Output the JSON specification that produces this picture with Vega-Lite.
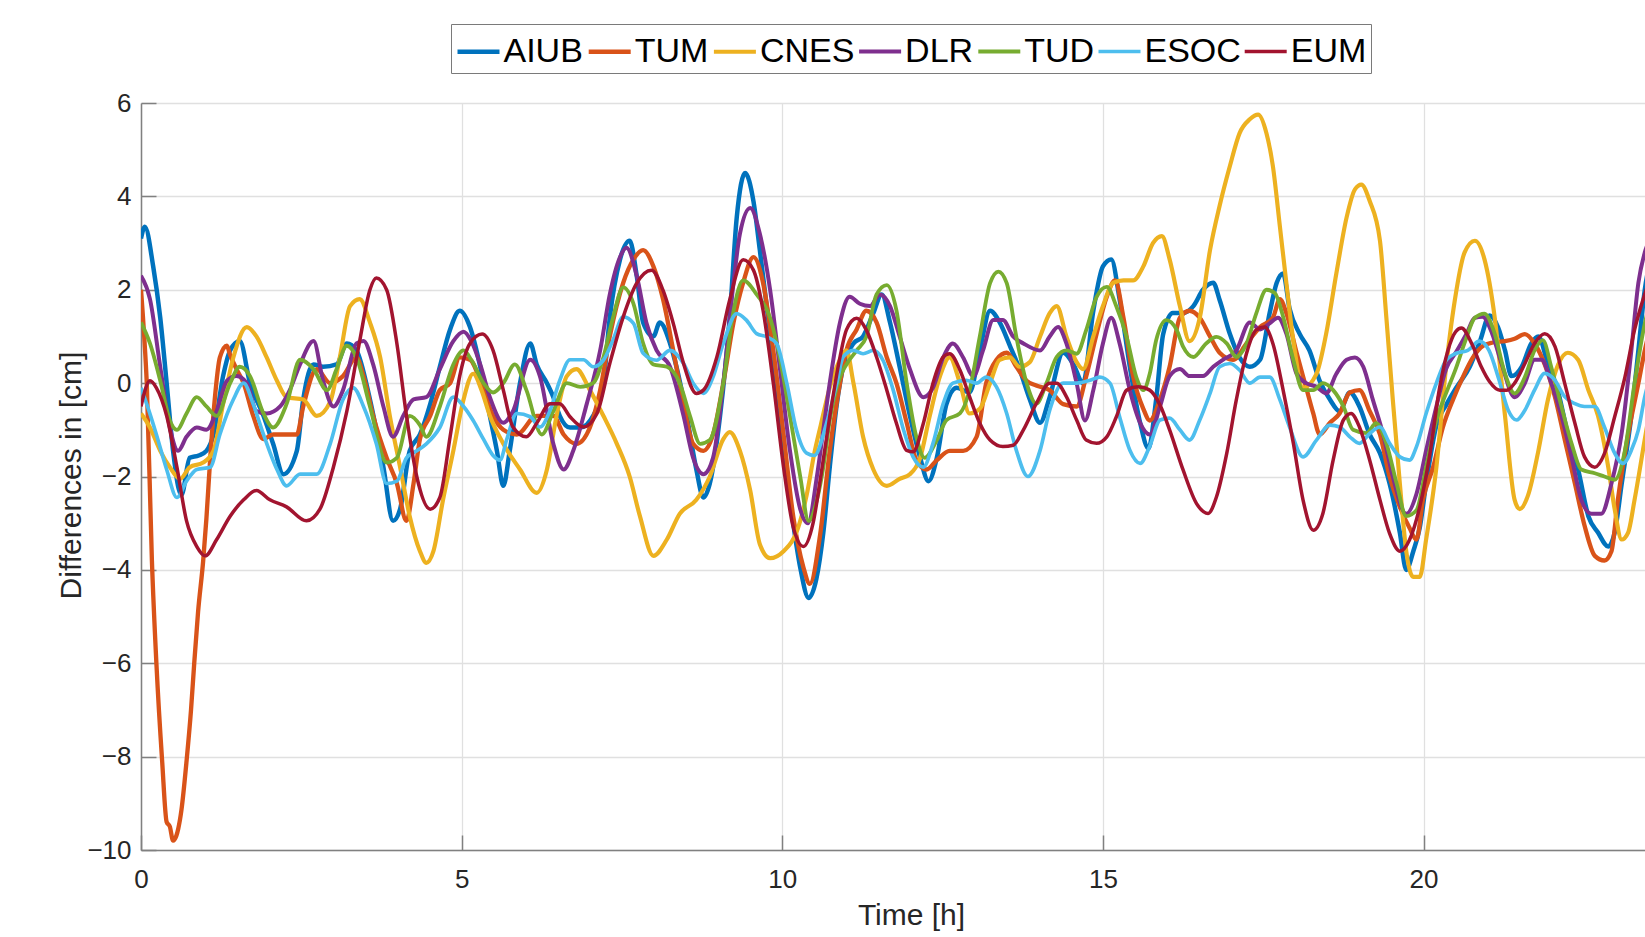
{
"$schema":"https://vega.github.io/schema/vega-lite/v6.json",
"width":1504,"height":747,
"autosize":{"type":"none"},
"padding":{"left":141,"top":103,"right":0,"bottom":87},
"background":"white",
"config":{"view":{"stroke":null},"font":"Liberation Sans",
 "axis":{"grid":true,"gridColor":"#e0e0e0","gridWidth":1.3,"domainColor":"#808080","domainWidth":1.5,"tickColor":"#808080","tickWidth":1.5,"tickSize":-15,"labelFontSize":26,"labelColor":"#262626","labelFont":"Liberation Sans","labelFlush":false,"labelOverlap":false,"titleFontSize":30,"titleFontWeight":"normal","titleColor":"#262626","titleFont":"Liberation Sans","titleBaseline":"alphabetic","titleAlign":"center"}},
"datasets":{"d":[
{"s":"AIUB","t":0,"v":3.1},{"s":"AIUB","t":0.06,"v":3.35},{"s":"AIUB","t":0.19,"v":2.5},{"s":"AIUB","t":0.3,"v":1.4},{"s":"AIUB","t":0.4,"v":0},{"s":"AIUB","t":0.5,"v":-1.45},{"s":"AIUB","t":0.63,"v":-2.4},{"s":"AIUB","t":0.76,"v":-1.6},{"s":"AIUB","t":0.9,"v":-1.55},{"s":"AIUB","t":1.02,"v":-1.45},{"s":"AIUB","t":1.13,"v":-1.1},{"s":"AIUB","t":1.28,"v":0.15},{"s":"AIUB","t":1.39,"v":0.7},{"s":"AIUB","t":1.54,"v":0.9},{"s":"AIUB","t":1.7,"v":0},{"s":"AIUB","t":1.91,"v":-0.7},{"s":"AIUB","t":2.06,"v":-1.3},{"s":"AIUB","t":2.22,"v":-1.95},{"s":"AIUB","t":2.43,"v":-1.45},{"s":"AIUB","t":2.53,"v":-0.35},{"s":"AIUB","t":2.69,"v":0.4},{"s":"AIUB","t":2.84,"v":0.35},{"s":"AIUB","t":3.05,"v":0.4},{"s":"AIUB","t":3.21,"v":0.85},{"s":"AIUB","t":3.36,"v":0.7},{"s":"AIUB","t":3.57,"v":-0.35},{"s":"AIUB","t":3.78,"v":-1.8},{"s":"AIUB","t":3.93,"v":-2.95},{"s":"AIUB","t":4.04,"v":-2.7},{"s":"AIUB","t":4.19,"v":-1.45},{"s":"AIUB","t":4.35,"v":-1.1},{"s":"AIUB","t":4.51,"v":-0.45},{"s":"AIUB","t":4.66,"v":0.35},{"s":"AIUB","t":4.82,"v":1.15},{"s":"AIUB","t":4.97,"v":1.55},{"s":"AIUB","t":5.13,"v":1.2},{"s":"AIUB","t":5.29,"v":0.35},{"s":"AIUB","t":5.44,"v":-0.7},{"s":"AIUB","t":5.55,"v":-1.45},{"s":"AIUB","t":5.65,"v":-2.2},{"s":"AIUB","t":5.75,"v":-1.45},{"s":"AIUB","t":5.91,"v":0},{"s":"AIUB","t":6.07,"v":0.85},{"s":"AIUB","t":6.17,"v":0.4},{"s":"AIUB","t":6.33,"v":0},{"s":"AIUB","t":6.43,"v":-0.3},{"s":"AIUB","t":6.53,"v":-0.7},{"s":"AIUB","t":6.69,"v":-0.95},{"s":"AIUB","t":6.85,"v":-0.95},{"s":"AIUB","t":7.05,"v":-0.7},{"s":"AIUB","t":7.21,"v":0},{"s":"AIUB","t":7.31,"v":1.4},{"s":"AIUB","t":7.47,"v":2.65},{"s":"AIUB","t":7.62,"v":3.05},{"s":"AIUB","t":7.73,"v":2.3},{"s":"AIUB","t":7.83,"v":1.3},{"s":"AIUB","t":7.99,"v":1.0},{"s":"AIUB","t":8.09,"v":1.3},{"s":"AIUB","t":8.25,"v":0.85},{"s":"AIUB","t":8.35,"v":0.35},{"s":"AIUB","t":8.51,"v":-0.7},{"s":"AIUB","t":8.66,"v":-1.85},{"s":"AIUB","t":8.77,"v":-2.45},{"s":"AIUB","t":8.87,"v":-2.15},{"s":"AIUB","t":9.03,"v":-0.7},{"s":"AIUB","t":9.18,"v":1.4},{"s":"AIUB","t":9.29,"v":3.55},{"s":"AIUB","t":9.42,"v":4.5},{"s":"AIUB","t":9.55,"v":3.9},{"s":"AIUB","t":9.65,"v":2.85},{"s":"AIUB","t":9.81,"v":1.05},{"s":"AIUB","t":9.96,"v":-0.7},{"s":"AIUB","t":10.12,"v":-2.5},{"s":"AIUB","t":10.28,"v":-3.95},{"s":"AIUB","t":10.41,"v":-4.6},{"s":"AIUB","t":10.53,"v":-4.2},{"s":"AIUB","t":10.64,"v":-3.2},{"s":"AIUB","t":10.74,"v":-1.8},{"s":"AIUB","t":10.85,"v":-0.45},{"s":"AIUB","t":10.95,"v":0.35},{"s":"AIUB","t":11.11,"v":0.85},{"s":"AIUB","t":11.26,"v":1.0},{"s":"AIUB","t":11.42,"v":1.5},{"s":"AIUB","t":11.55,"v":1.9},{"s":"AIUB","t":11.68,"v":1.3},{"s":"AIUB","t":11.83,"v":0.35},{"s":"AIUB","t":11.99,"v":-0.7},{"s":"AIUB","t":12.15,"v":-1.6},{"s":"AIUB","t":12.28,"v":-2.1},{"s":"AIUB","t":12.41,"v":-1.6},{"s":"AIUB","t":12.56,"v":-0.45},{"s":"AIUB","t":12.72,"v":-0.1},{"s":"AIUB","t":12.92,"v":-0.2},{"s":"AIUB","t":13.08,"v":0.7},{"s":"AIUB","t":13.24,"v":1.55},{"s":"AIUB","t":13.39,"v":1.3},{"s":"AIUB","t":13.55,"v":0.8},{"s":"AIUB","t":13.7,"v":0.3},{"s":"AIUB","t":13.86,"v":-0.35},{"s":"AIUB","t":14.02,"v":-0.85},{"s":"AIUB","t":14.17,"v":-0.3},{"s":"AIUB","t":14.38,"v":0.65},{"s":"AIUB","t":14.54,"v":0.4},{"s":"AIUB","t":14.69,"v":0},{"s":"AIUB","t":14.85,"v":1.55},{"s":"AIUB","t":15.0,"v":2.5},{"s":"AIUB","t":15.13,"v":2.65},{"s":"AIUB","t":15.26,"v":1.8},{"s":"AIUB","t":15.42,"v":0.35},{"s":"AIUB","t":15.58,"v":-0.85},{"s":"AIUB","t":15.71,"v":-1.4},{"s":"AIUB","t":15.83,"v":-0.35},{"s":"AIUB","t":15.94,"v":1.05},{"s":"AIUB","t":16.09,"v":1.5},{"s":"AIUB","t":16.25,"v":1.5},{"s":"AIUB","t":16.41,"v":1.65},{"s":"AIUB","t":16.56,"v":2.0},{"s":"AIUB","t":16.72,"v":2.15},{"s":"AIUB","t":16.82,"v":1.78},{"s":"AIUB","t":16.98,"v":1.05},{"s":"AIUB","t":17.13,"v":0.55},{"s":"AIUB","t":17.29,"v":0.35},{"s":"AIUB","t":17.45,"v":0.5},{"s":"AIUB","t":17.6,"v":1.5},{"s":"AIUB","t":17.71,"v":2.15},{"s":"AIUB","t":17.81,"v":2.35},{"s":"AIUB","t":17.91,"v":1.6},{"s":"AIUB","t":18.07,"v":1.05},{"s":"AIUB","t":18.22,"v":0.7},{"s":"AIUB","t":18.38,"v":0.05},{"s":"AIUB","t":18.54,"v":-0.35},{"s":"AIUB","t":18.69,"v":-0.6},{"s":"AIUB","t":18.85,"v":-0.2},{"s":"AIUB","t":19.0,"v":-0.5},{"s":"AIUB","t":19.16,"v":-1.1},{"s":"AIUB","t":19.32,"v":-1.5},{"s":"AIUB","t":19.47,"v":-2.15},{"s":"AIUB","t":19.63,"v":-3.2},{"s":"AIUB","t":19.73,"v":-4.0},{"s":"AIUB","t":19.84,"v":-3.6},{"s":"AIUB","t":19.94,"v":-3.1},{"s":"AIUB","t":20.04,"v":-2.15},{"s":"AIUB","t":20.2,"v":-0.9},{"s":"AIUB","t":20.36,"v":-0.45},{"s":"AIUB","t":20.51,"v":-0.1},{"s":"AIUB","t":20.72,"v":0.35},{"s":"AIUB","t":20.88,"v":0.9},{"s":"AIUB","t":21.03,"v":1.45},{"s":"AIUB","t":21.16,"v":1.2},{"s":"AIUB","t":21.27,"v":0.7},{"s":"AIUB","t":21.37,"v":0.15},{"s":"AIUB","t":21.53,"v":0.35},{"s":"AIUB","t":21.68,"v":0.85},{"s":"AIUB","t":21.79,"v":1.0},{"s":"AIUB","t":21.94,"v":0.4},{"s":"AIUB","t":22.1,"v":-0.2},{"s":"AIUB","t":22.25,"v":-1.1},{"s":"AIUB","t":22.41,"v":-1.85},{"s":"AIUB","t":22.57,"v":-2.85},{"s":"AIUB","t":22.72,"v":-3.2},{"s":"AIUB","t":22.88,"v":-3.5},{"s":"AIUB","t":22.98,"v":-3.2},{"s":"AIUB","t":23.09,"v":-2.15},{"s":"AIUB","t":23.24,"v":-0.7},{"s":"AIUB","t":23.35,"v":0.7},{"s":"AIUB","t":23.45,"v":2.0},{"s":"AIUB","t":23.6,"v":2.8},
{"s":"TUM","t":0,"v":2.0},{"s":"TUM","t":0.05,"v":1.0},{"s":"TUM","t":0.09,"v":0},{"s":"TUM","t":0.17,"v":-3.8},{"s":"TUM","t":0.24,"v":-6.0},{"s":"TUM","t":0.33,"v":-8.1},{"s":"TUM","t":0.4,"v":-9.4},{"s":"TUM","t":0.45,"v":-9.5},{"s":"TUM","t":0.5,"v":-9.8},{"s":"TUM","t":0.55,"v":-9.7},{"s":"TUM","t":0.58,"v":-9.55},{"s":"TUM","t":0.63,"v":-9.15},{"s":"TUM","t":0.71,"v":-8.1},{"s":"TUM","t":0.78,"v":-7.0},{"s":"TUM","t":0.83,"v":-6.0},{"s":"TUM","t":0.89,"v":-4.9},{"s":"TUM","t":0.97,"v":-3.8},{"s":"TUM","t":1.02,"v":-2.9},{"s":"TUM","t":1.08,"v":-1.6},{"s":"TUM","t":1.15,"v":-0.35},{"s":"TUM","t":1.23,"v":0.55},{"s":"TUM","t":1.34,"v":0.8},{"s":"TUM","t":1.39,"v":0.6},{"s":"TUM","t":1.49,"v":0.3},{"s":"TUM","t":1.6,"v":0},{"s":"TUM","t":1.75,"v":-0.7},{"s":"TUM","t":1.91,"v":-1.2},{"s":"TUM","t":2.06,"v":-1.1},{"s":"TUM","t":2.27,"v":-1.1},{"s":"TUM","t":2.43,"v":-1.1},{"s":"TUM","t":2.53,"v":-0.5},{"s":"TUM","t":2.74,"v":0.3},{"s":"TUM","t":2.95,"v":0},{"s":"TUM","t":3.15,"v":0.15},{"s":"TUM","t":3.36,"v":0.55},{"s":"TUM","t":3.47,"v":0.15},{"s":"TUM","t":3.62,"v":-0.7},{"s":"TUM","t":3.83,"v":-1.6},{"s":"TUM","t":3.99,"v":-2.15},{"s":"TUM","t":4.14,"v":-2.95},{"s":"TUM","t":4.25,"v":-2.15},{"s":"TUM","t":4.35,"v":-1.2},{"s":"TUM","t":4.51,"v":-0.7},{"s":"TUM","t":4.66,"v":-0.15},{"s":"TUM","t":4.82,"v":0},{"s":"TUM","t":4.97,"v":0.55},{"s":"TUM","t":5.13,"v":0.5},{"s":"TUM","t":5.34,"v":-0.15},{"s":"TUM","t":5.49,"v":-0.7},{"s":"TUM","t":5.65,"v":-1.0},{"s":"TUM","t":5.86,"v":-1.1},{"s":"TUM","t":6.17,"v":-0.7},{"s":"TUM","t":6.43,"v":-0.7},{"s":"TUM","t":6.59,"v":-1.1},{"s":"TUM","t":6.79,"v":-1.3},{"s":"TUM","t":7.0,"v":-0.95},{"s":"TUM","t":7.16,"v":-0.15},{"s":"TUM","t":7.31,"v":1.0},{"s":"TUM","t":7.52,"v":2.15},{"s":"TUM","t":7.68,"v":2.65},{"s":"TUM","t":7.83,"v":2.85},{"s":"TUM","t":7.99,"v":2.5},{"s":"TUM","t":8.14,"v":1.8},{"s":"TUM","t":8.3,"v":0.7},{"s":"TUM","t":8.46,"v":-0.45},{"s":"TUM","t":8.61,"v":-1.3},{"s":"TUM","t":8.77,"v":-1.45},{"s":"TUM","t":8.92,"v":-1.1},{"s":"TUM","t":9.08,"v":0},{"s":"TUM","t":9.24,"v":1.3},{"s":"TUM","t":9.39,"v":2.15},{"s":"TUM","t":9.55,"v":2.7},{"s":"TUM","t":9.7,"v":2.15},{"s":"TUM","t":9.86,"v":0.7},{"s":"TUM","t":10.02,"v":-1.1},{"s":"TUM","t":10.17,"v":-2.85},{"s":"TUM","t":10.33,"v":-3.95},{"s":"TUM","t":10.43,"v":-4.3},{"s":"TUM","t":10.59,"v":-3.25},{"s":"TUM","t":10.74,"v":-1.45},{"s":"TUM","t":10.9,"v":0},{"s":"TUM","t":11.0,"v":0.7},{"s":"TUM","t":11.16,"v":1.15},{"s":"TUM","t":11.31,"v":1.55},{"s":"TUM","t":11.47,"v":1.3},{"s":"TUM","t":11.63,"v":0.55},{"s":"TUM","t":11.78,"v":0},{"s":"TUM","t":11.94,"v":-0.85},{"s":"TUM","t":12.09,"v":-1.65},{"s":"TUM","t":12.25,"v":-1.85},{"s":"TUM","t":12.41,"v":-1.65},{"s":"TUM","t":12.61,"v":-1.45},{"s":"TUM","t":12.82,"v":-1.45},{"s":"TUM","t":13.03,"v":-1.15},{"s":"TUM","t":13.18,"v":0},{"s":"TUM","t":13.34,"v":0.5},{"s":"TUM","t":13.5,"v":0.65},{"s":"TUM","t":13.65,"v":0.35},{"s":"TUM","t":13.81,"v":0.05},{"s":"TUM","t":13.96,"v":-0.05},{"s":"TUM","t":14.17,"v":-0.15},{"s":"TUM","t":14.38,"v":-0.45},{"s":"TUM","t":14.59,"v":-0.5},{"s":"TUM","t":14.74,"v":0.15},{"s":"TUM","t":14.9,"v":1.05},{"s":"TUM","t":15.06,"v":1.85},{"s":"TUM","t":15.19,"v":2.2},{"s":"TUM","t":15.32,"v":1.4},{"s":"TUM","t":15.47,"v":0.15},{"s":"TUM","t":15.63,"v":-0.55},{"s":"TUM","t":15.73,"v":-0.8},{"s":"TUM","t":15.89,"v":-0.35},{"s":"TUM","t":16.04,"v":0.35},{"s":"TUM","t":16.2,"v":1.4},{"s":"TUM","t":16.35,"v":1.55},{"s":"TUM","t":16.51,"v":1.4},{"s":"TUM","t":16.67,"v":1.0},{"s":"TUM","t":16.82,"v":0.65},{"s":"TUM","t":17.03,"v":0.5},{"s":"TUM","t":17.24,"v":0.85},{"s":"TUM","t":17.45,"v":1.2},{"s":"TUM","t":17.65,"v":1.4},{"s":"TUM","t":17.76,"v":1.8},{"s":"TUM","t":17.86,"v":1.5},{"s":"TUM","t":18.02,"v":0.65},{"s":"TUM","t":18.17,"v":-0.1},{"s":"TUM","t":18.28,"v":-0.65},{"s":"TUM","t":18.38,"v":-1.1},{"s":"TUM","t":18.54,"v":-0.85},{"s":"TUM","t":18.69,"v":-0.65},{"s":"TUM","t":18.85,"v":-0.2},{"s":"TUM","t":19.0,"v":-0.15},{"s":"TUM","t":19.16,"v":-0.6},{"s":"TUM","t":19.32,"v":-1.1},{"s":"TUM","t":19.47,"v":-2.0},{"s":"TUM","t":19.63,"v":-2.65},{"s":"TUM","t":19.78,"v":-3.1},{"s":"TUM","t":19.89,"v":-3.35},{"s":"TUM","t":19.99,"v":-2.5},{"s":"TUM","t":20.15,"v":-1.8},{"s":"TUM","t":20.3,"v":-0.95},{"s":"TUM","t":20.46,"v":-0.35},{"s":"TUM","t":20.62,"v":0.15},{"s":"TUM","t":20.77,"v":0.55},{"s":"TUM","t":20.93,"v":0.8},{"s":"TUM","t":21.08,"v":0.87},{"s":"TUM","t":21.27,"v":0.9},{"s":"TUM","t":21.42,"v":0.95},{"s":"TUM","t":21.58,"v":1.05},{"s":"TUM","t":21.73,"v":0.85},{"s":"TUM","t":21.89,"v":0.4},{"s":"TUM","t":22.05,"v":-0.3},{"s":"TUM","t":22.2,"v":-1.2},{"s":"TUM","t":22.36,"v":-2.15},{"s":"TUM","t":22.51,"v":-3.05},{"s":"TUM","t":22.67,"v":-3.7},{"s":"TUM","t":22.82,"v":-3.8},{"s":"TUM","t":22.93,"v":-3.6},{"s":"TUM","t":23.03,"v":-2.5},{"s":"TUM","t":23.19,"v":-1.1},{"s":"TUM","t":23.35,"v":0},{"s":"TUM","t":23.45,"v":0.7},{"s":"TUM","t":23.6,"v":1.5},
{"s":"CNES","t":0,"v":-0.65},{"s":"CNES","t":0.14,"v":-0.95},{"s":"CNES","t":0.3,"v":-1.45},{"s":"CNES","t":0.45,"v":-1.8},{"s":"CNES","t":0.61,"v":-2.05},{"s":"CNES","t":0.76,"v":-1.8},{"s":"CNES","t":0.97,"v":-1.7},{"s":"CNES","t":1.13,"v":-1.45},{"s":"CNES","t":1.28,"v":-0.45},{"s":"CNES","t":1.44,"v":0.55},{"s":"CNES","t":1.65,"v":1.2},{"s":"CNES","t":1.8,"v":1.0},{"s":"CNES","t":1.96,"v":0.55},{"s":"CNES","t":2.12,"v":0.05},{"s":"CNES","t":2.27,"v":-0.3},{"s":"CNES","t":2.53,"v":-0.35},{"s":"CNES","t":2.74,"v":-0.7},{"s":"CNES","t":2.95,"v":-0.4},{"s":"CNES","t":3.1,"v":0.55},{"s":"CNES","t":3.26,"v":1.65},{"s":"CNES","t":3.41,"v":1.8},{"s":"CNES","t":3.57,"v":1.3},{"s":"CNES","t":3.73,"v":0.55},{"s":"CNES","t":3.88,"v":-0.7},{"s":"CNES","t":4.04,"v":-1.8},{"s":"CNES","t":4.19,"v":-2.85},{"s":"CNES","t":4.35,"v":-3.6},{"s":"CNES","t":4.45,"v":-3.85},{"s":"CNES","t":4.56,"v":-3.6},{"s":"CNES","t":4.71,"v":-2.5},{"s":"CNES","t":4.87,"v":-1.45},{"s":"CNES","t":5.03,"v":-0.35},{"s":"CNES","t":5.18,"v":0.2},{"s":"CNES","t":5.31,"v":-0.15},{"s":"CNES","t":5.44,"v":-0.7},{"s":"CNES","t":5.65,"v":-1.3},{"s":"CNES","t":5.91,"v":-1.85},{"s":"CNES","t":6.17,"v":-2.35},{"s":"CNES","t":6.33,"v":-1.85},{"s":"CNES","t":6.48,"v":-0.7},{"s":"CNES","t":6.64,"v":0.15},{"s":"CNES","t":6.79,"v":0.3},{"s":"CNES","t":7.0,"v":-0.15},{"s":"CNES","t":7.21,"v":-0.7},{"s":"CNES","t":7.42,"v":-1.3},{"s":"CNES","t":7.62,"v":-2.0},{"s":"CNES","t":7.78,"v":-2.85},{"s":"CNES","t":7.99,"v":-3.7},{"s":"CNES","t":8.2,"v":-3.35},{"s":"CNES","t":8.4,"v":-2.8},{"s":"CNES","t":8.66,"v":-2.5},{"s":"CNES","t":8.87,"v":-2.0},{"s":"CNES","t":9.08,"v":-1.2},{"s":"CNES","t":9.18,"v":-1.05},{"s":"CNES","t":9.34,"v":-1.45},{"s":"CNES","t":9.5,"v":-2.3},{"s":"CNES","t":9.65,"v":-3.45},{"s":"CNES","t":9.81,"v":-3.75},{"s":"CNES","t":10.02,"v":-3.6},{"s":"CNES","t":10.22,"v":-3.2},{"s":"CNES","t":10.38,"v":-2.4},{"s":"CNES","t":10.5,"v":-1.5},{"s":"CNES","t":10.6,"v":-0.9},{"s":"CNES","t":10.74,"v":-0.1},{"s":"CNES","t":10.9,"v":0.5},{"s":"CNES","t":11.0,"v":0.7},{"s":"CNES","t":11.11,"v":0},{"s":"CNES","t":11.26,"v":-1.15},{"s":"CNES","t":11.42,"v":-1.85},{"s":"CNES","t":11.63,"v":-2.2},{"s":"CNES","t":11.83,"v":-2.05},{"s":"CNES","t":11.99,"v":-1.95},{"s":"CNES","t":12.15,"v":-1.6},{"s":"CNES","t":12.3,"v":-0.7},{"s":"CNES","t":12.46,"v":0.15},{"s":"CNES","t":12.61,"v":0.55},{"s":"CNES","t":12.77,"v":0},{"s":"CNES","t":12.92,"v":-0.65},{"s":"CNES","t":13.08,"v":-0.55},{"s":"CNES","t":13.24,"v":0},{"s":"CNES","t":13.39,"v":0.5},{"s":"CNES","t":13.55,"v":0.55},{"s":"CNES","t":13.7,"v":0.35},{"s":"CNES","t":13.86,"v":0.45},{"s":"CNES","t":14.02,"v":1.0},{"s":"CNES","t":14.17,"v":1.5},{"s":"CNES","t":14.28,"v":1.65},{"s":"CNES","t":14.43,"v":1.0},{"s":"CNES","t":14.59,"v":0.45},{"s":"CNES","t":14.69,"v":0.3},{"s":"CNES","t":14.85,"v":1.0},{"s":"CNES","t":15.0,"v":1.65},{"s":"CNES","t":15.16,"v":2.15},{"s":"CNES","t":15.32,"v":2.2},{"s":"CNES","t":15.47,"v":2.2},{"s":"CNES","t":15.63,"v":2.5},{"s":"CNES","t":15.78,"v":3.0},{"s":"CNES","t":15.92,"v":3.15},{"s":"CNES","t":16.04,"v":2.65},{"s":"CNES","t":16.2,"v":1.65},{"s":"CNES","t":16.35,"v":0.9},{"s":"CNES","t":16.51,"v":1.4},{"s":"CNES","t":16.67,"v":2.85},{"s":"CNES","t":16.82,"v":3.8},{"s":"CNES","t":16.98,"v":4.65},{"s":"CNES","t":17.13,"v":5.35},{"s":"CNES","t":17.29,"v":5.65},{"s":"CNES","t":17.42,"v":5.75},{"s":"CNES","t":17.55,"v":5.35},{"s":"CNES","t":17.65,"v":4.65},{"s":"CNES","t":17.76,"v":3.35},{"s":"CNES","t":17.86,"v":2.15},{"s":"CNES","t":17.97,"v":0.9},{"s":"CNES","t":18.12,"v":-0.1},{"s":"CNES","t":18.33,"v":0.2},{"s":"CNES","t":18.48,"v":1.05},{"s":"CNES","t":18.64,"v":2.35},{"s":"CNES","t":18.8,"v":3.55},{"s":"CNES","t":18.93,"v":4.15},{"s":"CNES","t":19.03,"v":4.25},{"s":"CNES","t":19.16,"v":3.9},{"s":"CNES","t":19.32,"v":3.05},{"s":"CNES","t":19.42,"v":1.4},{"s":"CNES","t":19.52,"v":-0.35},{"s":"CNES","t":19.63,"v":-2.15},{"s":"CNES","t":19.73,"v":-3.6},{"s":"CNES","t":19.84,"v":-4.15},{"s":"CNES","t":19.94,"v":-4.15},{"s":"CNES","t":20.04,"v":-3.35},{"s":"CNES","t":20.2,"v":-1.8},{"s":"CNES","t":20.34,"v":0.2},{"s":"CNES","t":20.49,"v":1.8},{"s":"CNES","t":20.64,"v":2.8},{"s":"CNES","t":20.8,"v":3.05},{"s":"CNES","t":20.95,"v":2.65},{"s":"CNES","t":21.11,"v":1.4},{"s":"CNES","t":21.27,"v":-0.7},{"s":"CNES","t":21.42,"v":-2.5},{"s":"CNES","t":21.5,"v":-2.7},{"s":"CNES","t":21.63,"v":-2.4},{"s":"CNES","t":21.79,"v":-1.45},{"s":"CNES","t":21.94,"v":-0.35},{"s":"CNES","t":22.1,"v":0.4},{"s":"CNES","t":22.25,"v":0.65},{"s":"CNES","t":22.41,"v":0.5},{"s":"CNES","t":22.57,"v":-0.15},{"s":"CNES","t":22.72,"v":-0.7},{"s":"CNES","t":22.88,"v":-1.8},{"s":"CNES","t":22.98,"v":-2.7},{"s":"CNES","t":23.09,"v":-3.35},{"s":"CNES","t":23.19,"v":-3.2},{"s":"CNES","t":23.29,"v":-2.5},{"s":"CNES","t":23.45,"v":-1.2},{"s":"CNES","t":23.6,"v":0},
{"s":"DLR","t":0,"v":2.3},{"s":"DLR","t":0.14,"v":1.8},{"s":"DLR","t":0.3,"v":0.35},{"s":"DLR","t":0.45,"v":-0.95},{"s":"DLR","t":0.58,"v":-1.45},{"s":"DLR","t":0.71,"v":-1.15},{"s":"DLR","t":0.87,"v":-0.95},{"s":"DLR","t":1.02,"v":-1.0},{"s":"DLR","t":1.18,"v":-0.6},{"s":"DLR","t":1.34,"v":0.05},{"s":"DLR","t":1.49,"v":0.15},{"s":"DLR","t":1.65,"v":0},{"s":"DLR","t":1.8,"v":-0.6},{"s":"DLR","t":1.96,"v":-0.65},{"s":"DLR","t":2.17,"v":-0.5},{"s":"DLR","t":2.32,"v":-0.15},{"s":"DLR","t":2.48,"v":0.4},{"s":"DLR","t":2.69,"v":0.9},{"s":"DLR","t":2.84,"v":0.05},{"s":"DLR","t":3.0,"v":-0.5},{"s":"DLR","t":3.15,"v":-0.15},{"s":"DLR","t":3.36,"v":0.85},{"s":"DLR","t":3.47,"v":0.9},{"s":"DLR","t":3.62,"v":0.4},{"s":"DLR","t":3.78,"v":-0.5},{"s":"DLR","t":3.93,"v":-1.15},{"s":"DLR","t":4.09,"v":-0.7},{"s":"DLR","t":4.25,"v":-0.35},{"s":"DLR","t":4.45,"v":-0.3},{"s":"DLR","t":4.66,"v":0.3},{"s":"DLR","t":4.87,"v":0.9},{"s":"DLR","t":5.03,"v":1.1},{"s":"DLR","t":5.15,"v":0.9},{"s":"DLR","t":5.29,"v":0.4},{"s":"DLR","t":5.44,"v":-0.3},{"s":"DLR","t":5.65,"v":-0.85},{"s":"DLR","t":5.8,"v":-0.6},{"s":"DLR","t":6.07,"v":0.5},{"s":"DLR","t":6.22,"v":0.15},{"s":"DLR","t":6.43,"v":-1.3},{"s":"DLR","t":6.59,"v":-1.85},{"s":"DLR","t":6.74,"v":-1.45},{"s":"DLR","t":6.95,"v":-0.45},{"s":"DLR","t":7.16,"v":0.7},{"s":"DLR","t":7.31,"v":1.9},{"s":"DLR","t":7.47,"v":2.7},{"s":"DLR","t":7.57,"v":2.9},{"s":"DLR","t":7.73,"v":2.3},{"s":"DLR","t":7.88,"v":1.3},{"s":"DLR","t":8.04,"v":0.7},{"s":"DLR","t":8.25,"v":0.35},{"s":"DLR","t":8.46,"v":-0.7},{"s":"DLR","t":8.61,"v":-1.6},{"s":"DLR","t":8.77,"v":-1.95},{"s":"DLR","t":8.92,"v":-1.6},{"s":"DLR","t":9.08,"v":0},{"s":"DLR","t":9.24,"v":2.15},{"s":"DLR","t":9.34,"v":3.2},{"s":"DLR","t":9.5,"v":3.75},{"s":"DLR","t":9.65,"v":3.2},{"s":"DLR","t":9.81,"v":2.0},{"s":"DLR","t":9.96,"v":0.35},{"s":"DLR","t":10.12,"v":-1.45},{"s":"DLR","t":10.28,"v":-2.7},{"s":"DLR","t":10.4,"v":-3.0},{"s":"DLR","t":10.54,"v":-2.0},{"s":"DLR","t":10.64,"v":-1.0},{"s":"DLR","t":10.74,"v":0},{"s":"DLR","t":10.9,"v":1.3},{"s":"DLR","t":11.05,"v":1.85},{"s":"DLR","t":11.21,"v":1.7},{"s":"DLR","t":11.37,"v":1.65},{"s":"DLR","t":11.52,"v":1.9},{"s":"DLR","t":11.68,"v":1.65},{"s":"DLR","t":11.83,"v":1.0},{"s":"DLR","t":11.99,"v":0.3},{"s":"DLR","t":12.2,"v":-0.3},{"s":"DLR","t":12.35,"v":-0.1},{"s":"DLR","t":12.51,"v":0.55},{"s":"DLR","t":12.66,"v":0.85},{"s":"DLR","t":12.82,"v":0.55},{"s":"DLR","t":12.98,"v":0.15},{"s":"DLR","t":13.13,"v":0.7},{"s":"DLR","t":13.29,"v":1.35},{"s":"DLR","t":13.44,"v":1.35},{"s":"DLR","t":13.6,"v":1.0},{"s":"DLR","t":13.76,"v":0.85},{"s":"DLR","t":14.02,"v":0.7},{"s":"DLR","t":14.17,"v":1.0},{"s":"DLR","t":14.3,"v":1.2},{"s":"DLR","t":14.43,"v":0.85},{"s":"DLR","t":14.59,"v":0},{"s":"DLR","t":14.72,"v":-0.8},{"s":"DLR","t":14.85,"v":-0.15},{"s":"DLR","t":15.0,"v":0.85},{"s":"DLR","t":15.13,"v":1.4},{"s":"DLR","t":15.26,"v":0.85},{"s":"DLR","t":15.42,"v":-0.15},{"s":"DLR","t":15.58,"v":-0.85},{"s":"DLR","t":15.73,"v":-1.1},{"s":"DLR","t":15.89,"v":-0.5},{"s":"DLR","t":16.04,"v":0.15},{"s":"DLR","t":16.2,"v":0.3},{"s":"DLR","t":16.35,"v":0.15},{"s":"DLR","t":16.56,"v":0.15},{"s":"DLR","t":16.72,"v":0.35},{"s":"DLR","t":16.87,"v":0.5},{"s":"DLR","t":17.08,"v":0.7},{"s":"DLR","t":17.29,"v":1.3},{"s":"DLR","t":17.45,"v":1.15},{"s":"DLR","t":17.6,"v":1.28},{"s":"DLR","t":17.73,"v":1.4},{"s":"DLR","t":17.86,"v":1.06},{"s":"DLR","t":18.02,"v":0.2},{"s":"DLR","t":18.17,"v":0},{"s":"DLR","t":18.33,"v":-0.08},{"s":"DLR","t":18.48,"v":-0.22},{"s":"DLR","t":18.64,"v":0.2},{"s":"DLR","t":18.8,"v":0.5},{"s":"DLR","t":18.93,"v":0.55},{"s":"DLR","t":19.06,"v":0.35},{"s":"DLR","t":19.21,"v":-0.36},{"s":"DLR","t":19.37,"v":-1.1},{"s":"DLR","t":19.52,"v":-2.0},{"s":"DLR","t":19.73,"v":-2.8},{"s":"DLR","t":19.89,"v":-2.37},{"s":"DLR","t":20.04,"v":-1.44},{"s":"DLR","t":20.2,"v":-0.5},{"s":"DLR","t":20.35,"v":0.3},{"s":"DLR","t":20.51,"v":0.67},{"s":"DLR","t":20.67,"v":1.06},{"s":"DLR","t":20.8,"v":1.4},{"s":"DLR","t":20.92,"v":1.42},{"s":"DLR","t":21.07,"v":1.06},{"s":"DLR","t":21.22,"v":0.4},{"s":"DLR","t":21.42,"v":-0.3},{"s":"DLR","t":21.58,"v":0},{"s":"DLR","t":21.73,"v":0.5},{"s":"DLR","t":21.84,"v":0.5},{"s":"DLR","t":21.99,"v":0},{"s":"DLR","t":22.15,"v":-0.7},{"s":"DLR","t":22.31,"v":-1.6},{"s":"DLR","t":22.46,"v":-2.5},{"s":"DLR","t":22.62,"v":-2.8},{"s":"DLR","t":22.77,"v":-2.8},{"s":"DLR","t":22.93,"v":-2.15},{"s":"DLR","t":23.09,"v":-1.07},{"s":"DLR","t":23.24,"v":0.7},{"s":"DLR","t":23.35,"v":2.15},{"s":"DLR","t":23.45,"v":2.8},{"s":"DLR","t":23.6,"v":3.2},
{"s":"TUD","t":0,"v":1.3},{"s":"TUD","t":0.14,"v":0.85},{"s":"TUD","t":0.3,"v":0.05},{"s":"TUD","t":0.45,"v":-0.8},{"s":"TUD","t":0.56,"v":-1.0},{"s":"TUD","t":0.71,"v":-0.65},{"s":"TUD","t":0.87,"v":-0.3},{"s":"TUD","t":1.02,"v":-0.5},{"s":"TUD","t":1.18,"v":-0.7},{"s":"TUD","t":1.39,"v":0},{"s":"TUD","t":1.54,"v":0.35},{"s":"TUD","t":1.7,"v":0.15},{"s":"TUD","t":1.91,"v":-0.65},{"s":"TUD","t":2.06,"v":-0.95},{"s":"TUD","t":2.27,"v":-0.45},{"s":"TUD","t":2.48,"v":0.5},{"s":"TUD","t":2.69,"v":0.3},{"s":"TUD","t":2.9,"v":-0.15},{"s":"TUD","t":3.05,"v":0.3},{"s":"TUD","t":3.21,"v":0.8},{"s":"TUD","t":3.36,"v":0.55},{"s":"TUD","t":3.57,"v":-0.5},{"s":"TUD","t":3.83,"v":-1.7},{"s":"TUD","t":3.99,"v":-1.6},{"s":"TUD","t":4.19,"v":-0.7},{"s":"TUD","t":4.35,"v":-0.9},{"s":"TUD","t":4.45,"v":-1.15},{"s":"TUD","t":4.66,"v":-0.5},{"s":"TUD","t":4.87,"v":0.4},{"s":"TUD","t":5.03,"v":0.7},{"s":"TUD","t":5.15,"v":0.5},{"s":"TUD","t":5.34,"v":0},{"s":"TUD","t":5.49,"v":-0.2},{"s":"TUD","t":5.65,"v":0},{"s":"TUD","t":5.83,"v":0.4},{"s":"TUD","t":6.01,"v":-0.15},{"s":"TUD","t":6.25,"v":-1.1},{"s":"TUD","t":6.43,"v":-0.6},{"s":"TUD","t":6.64,"v":0},{"s":"TUD","t":6.85,"v":-0.08},{"s":"TUD","t":7.05,"v":0},{"s":"TUD","t":7.21,"v":0.55},{"s":"TUD","t":7.36,"v":1.4},{"s":"TUD","t":7.52,"v":2.05},{"s":"TUD","t":7.68,"v":1.7},{"s":"TUD","t":7.83,"v":0.85},{"s":"TUD","t":7.99,"v":0.4},{"s":"TUD","t":8.2,"v":0.35},{"s":"TUD","t":8.4,"v":0},{"s":"TUD","t":8.56,"v":-0.7},{"s":"TUD","t":8.72,"v":-1.3},{"s":"TUD","t":8.87,"v":-1.22},{"s":"TUD","t":9.08,"v":0},{"s":"TUD","t":9.24,"v":1.55},{"s":"TUD","t":9.39,"v":2.2},{"s":"TUD","t":9.6,"v":1.9},{"s":"TUD","t":9.81,"v":1.4},{"s":"TUD","t":9.96,"v":0.55},{"s":"TUD","t":10.12,"v":-0.7},{"s":"TUD","t":10.28,"v":-2.0},{"s":"TUD","t":10.41,"v":-2.95},{"s":"TUD","t":10.54,"v":-2.5},{"s":"TUD","t":10.64,"v":-1.8},{"s":"TUD","t":10.74,"v":-0.8},{"s":"TUD","t":10.9,"v":0.13},{"s":"TUD","t":11.0,"v":0.4},{"s":"TUD","t":11.16,"v":0.7},{"s":"TUD","t":11.31,"v":0.99},{"s":"TUD","t":11.47,"v":1.9},{"s":"TUD","t":11.63,"v":2.1},{"s":"TUD","t":11.78,"v":1.56},{"s":"TUD","t":11.94,"v":0},{"s":"TUD","t":12.09,"v":-1.15},{"s":"TUD","t":12.22,"v":-1.6},{"s":"TUD","t":12.41,"v":-1.22},{"s":"TUD","t":12.56,"v":-0.79},{"s":"TUD","t":12.77,"v":-0.65},{"s":"TUD","t":12.92,"v":-0.15},{"s":"TUD","t":13.08,"v":1.0},{"s":"TUD","t":13.24,"v":2.14},{"s":"TUD","t":13.37,"v":2.39},{"s":"TUD","t":13.5,"v":2.14},{"s":"TUD","t":13.65,"v":0.99},{"s":"TUD","t":13.81,"v":0},{"s":"TUD","t":13.96,"v":-0.44},{"s":"TUD","t":14.12,"v":0},{"s":"TUD","t":14.28,"v":0.56},{"s":"TUD","t":14.43,"v":0.7},{"s":"TUD","t":14.59,"v":0.63},{"s":"TUD","t":14.74,"v":1.14},{"s":"TUD","t":14.9,"v":1.84},{"s":"TUD","t":15.06,"v":2.06},{"s":"TUD","t":15.21,"v":1.64},{"s":"TUD","t":15.37,"v":0.99},{"s":"TUD","t":15.52,"v":0.13},{"s":"TUD","t":15.63,"v":-0.15},{"s":"TUD","t":15.73,"v":0.2},{"s":"TUD","t":15.83,"v":0.92},{"s":"TUD","t":15.99,"v":1.35},{"s":"TUD","t":16.15,"v":1.14},{"s":"TUD","t":16.25,"v":0.78},{"s":"TUD","t":16.41,"v":0.56},{"s":"TUD","t":16.61,"v":0.85},{"s":"TUD","t":16.77,"v":0.99},{"s":"TUD","t":16.93,"v":0.85},{"s":"TUD","t":17.08,"v":0.56},{"s":"TUD","t":17.24,"v":0.85},{"s":"TUD","t":17.39,"v":1.49},{"s":"TUD","t":17.55,"v":2.0},{"s":"TUD","t":17.68,"v":1.93},{"s":"TUD","t":17.81,"v":1.42},{"s":"TUD","t":17.97,"v":0.49},{"s":"TUD","t":18.12,"v":-0.15},{"s":"TUD","t":18.28,"v":-0.15},{"s":"TUD","t":18.43,"v":0},{"s":"TUD","t":18.59,"v":-0.15},{"s":"TUD","t":18.75,"v":-0.5},{"s":"TUD","t":18.9,"v":-1.0},{"s":"TUD","t":19.11,"v":-1.07},{"s":"TUD","t":19.26,"v":-0.86},{"s":"TUD","t":19.42,"v":-1.29},{"s":"TUD","t":19.58,"v":-2.15},{"s":"TUD","t":19.73,"v":-2.85},{"s":"TUD","t":19.89,"v":-2.72},{"s":"TUD","t":20.04,"v":-1.8},{"s":"TUD","t":20.2,"v":-0.79},{"s":"TUD","t":20.35,"v":-0.22},{"s":"TUD","t":20.5,"v":0.3},{"s":"TUD","t":20.65,"v":0.9},{"s":"TUD","t":20.8,"v":1.4},{"s":"TUD","t":20.95,"v":1.49},{"s":"TUD","t":21.1,"v":1.1},{"s":"TUD","t":21.27,"v":0.2},{"s":"TUD","t":21.42,"v":-0.22},{"s":"TUD","t":21.58,"v":0.13},{"s":"TUD","t":21.73,"v":0.7},{"s":"TUD","t":21.86,"v":0.92},{"s":"TUD","t":21.99,"v":0.35},{"s":"TUD","t":22.15,"v":-0.5},{"s":"TUD","t":22.31,"v":-1.3},{"s":"TUD","t":22.46,"v":-1.85},{"s":"TUD","t":22.67,"v":-1.93},{"s":"TUD","t":22.82,"v":-2.0},{"s":"TUD","t":22.98,"v":-2.07},{"s":"TUD","t":23.14,"v":-1.44},{"s":"TUD","t":23.29,"v":0},{"s":"TUD","t":23.45,"v":1.28},{"s":"TUD","t":23.6,"v":2.0},
{"s":"ESOC","t":0,"v":-0.1},{"s":"ESOC","t":0.09,"v":-0.45},{"s":"ESOC","t":0.24,"v":-1.1},{"s":"ESOC","t":0.4,"v":-1.85},{"s":"ESOC","t":0.56,"v":-2.45},{"s":"ESOC","t":0.71,"v":-2.1},{"s":"ESOC","t":0.87,"v":-1.85},{"s":"ESOC","t":1.08,"v":-1.8},{"s":"ESOC","t":1.23,"v":-1.1},{"s":"ESOC","t":1.44,"v":-0.35},{"s":"ESOC","t":1.6,"v":0},{"s":"ESOC","t":1.75,"v":-0.45},{"s":"ESOC","t":1.91,"v":-1.1},{"s":"ESOC","t":2.12,"v":-1.85},{"s":"ESOC","t":2.27,"v":-2.2},{"s":"ESOC","t":2.48,"v":-1.95},{"s":"ESOC","t":2.74,"v":-1.95},{"s":"ESOC","t":2.95,"v":-1.3},{"s":"ESOC","t":3.15,"v":-0.35},{"s":"ESOC","t":3.31,"v":-0.1},{"s":"ESOC","t":3.47,"v":-0.5},{"s":"ESOC","t":3.67,"v":-1.3},{"s":"ESOC","t":3.83,"v":-2.15},{"s":"ESOC","t":3.99,"v":-2.1},{"s":"ESOC","t":4.14,"v":-1.6},{"s":"ESOC","t":4.3,"v":-1.45},{"s":"ESOC","t":4.45,"v":-1.3},{"s":"ESOC","t":4.66,"v":-0.95},{"s":"ESOC","t":4.87,"v":-0.3},{"s":"ESOC","t":5.03,"v":-0.5},{"s":"ESOC","t":5.18,"v":-0.8},{"s":"ESOC","t":5.34,"v":-1.2},{"s":"ESOC","t":5.49,"v":-1.55},{"s":"ESOC","t":5.6,"v":-1.65},{"s":"ESOC","t":5.7,"v":-1.22},{"s":"ESOC","t":5.86,"v":-0.65},{"s":"ESOC","t":6.07,"v":-0.72},{"s":"ESOC","t":6.22,"v":-0.94},{"s":"ESOC","t":6.38,"v":-0.58},{"s":"ESOC","t":6.53,"v":0.06},{"s":"ESOC","t":6.69,"v":0.5},{"s":"ESOC","t":6.9,"v":0.5},{"s":"ESOC","t":7.05,"v":0.35},{"s":"ESOC","t":7.21,"v":0.49},{"s":"ESOC","t":7.36,"v":0.92},{"s":"ESOC","t":7.52,"v":1.42},{"s":"ESOC","t":7.68,"v":1.28},{"s":"ESOC","t":7.83,"v":0.64},{"s":"ESOC","t":8.04,"v":0.49},{"s":"ESOC","t":8.25,"v":0.7},{"s":"ESOC","t":8.46,"v":0.42},{"s":"ESOC","t":8.61,"v":0},{"s":"ESOC","t":8.77,"v":-0.22},{"s":"ESOC","t":8.92,"v":0.13},{"s":"ESOC","t":9.08,"v":0.85},{"s":"ESOC","t":9.29,"v":1.49},{"s":"ESOC","t":9.44,"v":1.35},{"s":"ESOC","t":9.6,"v":1.06},{"s":"ESOC","t":9.76,"v":0.99},{"s":"ESOC","t":9.91,"v":0.85},{"s":"ESOC","t":10.07,"v":0},{"s":"ESOC","t":10.22,"v":-1.0},{"s":"ESOC","t":10.38,"v":-1.5},{"s":"ESOC","t":10.5,"v":-1.55},{"s":"ESOC","t":10.69,"v":-0.86},{"s":"ESOC","t":10.85,"v":0},{"s":"ESOC","t":10.95,"v":0.56},{"s":"ESOC","t":11.11,"v":0.7},{"s":"ESOC","t":11.26,"v":0.63},{"s":"ESOC","t":11.42,"v":0.7},{"s":"ESOC","t":11.57,"v":0.49},{"s":"ESOC","t":11.73,"v":-0.15},{"s":"ESOC","t":11.89,"v":-1.0},{"s":"ESOC","t":12.04,"v":-1.58},{"s":"ESOC","t":12.2,"v":-1.8},{"s":"ESOC","t":12.35,"v":-1.29},{"s":"ESOC","t":12.51,"v":-0.44},{"s":"ESOC","t":12.66,"v":0},{"s":"ESOC","t":12.87,"v":0.06},{"s":"ESOC","t":13.03,"v":0},{"s":"ESOC","t":13.18,"v":0.13},{"s":"ESOC","t":13.34,"v":-0.08},{"s":"ESOC","t":13.5,"v":-0.65},{"s":"ESOC","t":13.65,"v":-1.44},{"s":"ESOC","t":13.83,"v":-2.0},{"s":"ESOC","t":14.02,"v":-1.44},{"s":"ESOC","t":14.17,"v":-0.58},{"s":"ESOC","t":14.38,"v":0},{"s":"ESOC","t":14.59,"v":0},{"s":"ESOC","t":14.8,"v":0.06},{"s":"ESOC","t":14.95,"v":0.13},{"s":"ESOC","t":15.11,"v":0},{"s":"ESOC","t":15.26,"v":-0.72},{"s":"ESOC","t":15.42,"v":-1.44},{"s":"ESOC","t":15.58,"v":-1.72},{"s":"ESOC","t":15.73,"v":-1.35},{"s":"ESOC","t":15.89,"v":-0.79},{"s":"ESOC","t":16.04,"v":-0.75},{"s":"ESOC","t":16.2,"v":-1.0},{"s":"ESOC","t":16.35,"v":-1.22},{"s":"ESOC","t":16.51,"v":-0.79},{"s":"ESOC","t":16.67,"v":-0.22},{"s":"ESOC","t":16.82,"v":0.35},{"s":"ESOC","t":16.98,"v":0.42},{"s":"ESOC","t":17.13,"v":0.28},{"s":"ESOC","t":17.29,"v":0},{"s":"ESOC","t":17.45,"v":0.13},{"s":"ESOC","t":17.6,"v":0.13},{"s":"ESOC","t":17.76,"v":-0.36},{"s":"ESOC","t":17.91,"v":-0.94},{"s":"ESOC","t":18.12,"v":-1.58},{"s":"ESOC","t":18.33,"v":-1.22},{"s":"ESOC","t":18.54,"v":-0.9},{"s":"ESOC","t":18.69,"v":-0.94},{"s":"ESOC","t":18.85,"v":-1.15},{"s":"ESOC","t":19.0,"v":-1.29},{"s":"ESOC","t":19.16,"v":-1.08},{"s":"ESOC","t":19.32,"v":-0.94},{"s":"ESOC","t":19.47,"v":-1.29},{"s":"ESOC","t":19.63,"v":-1.58},{"s":"ESOC","t":19.78,"v":-1.65},{"s":"ESOC","t":19.89,"v":-1.36},{"s":"ESOC","t":20.04,"v":-0.65},{"s":"ESOC","t":20.2,"v":0},{"s":"ESOC","t":20.35,"v":0.49},{"s":"ESOC","t":20.51,"v":0.64},{"s":"ESOC","t":20.69,"v":0.7},{"s":"ESOC","t":20.87,"v":0.9},{"s":"ESOC","t":21.02,"v":0.7},{"s":"ESOC","t":21.17,"v":0.1},{"s":"ESOC","t":21.32,"v":-0.58},{"s":"ESOC","t":21.45,"v":-0.79},{"s":"ESOC","t":21.58,"v":-0.58},{"s":"ESOC","t":21.73,"v":-0.15},{"s":"ESOC","t":21.89,"v":0.21},{"s":"ESOC","t":22.05,"v":0.06},{"s":"ESOC","t":22.2,"v":-0.29},{"s":"ESOC","t":22.36,"v":-0.44},{"s":"ESOC","t":22.51,"v":-0.5},{"s":"ESOC","t":22.67,"v":-0.5},{"s":"ESOC","t":22.82,"v":-0.94},{"s":"ESOC","t":22.98,"v":-1.5},{"s":"ESOC","t":23.11,"v":-1.72},{"s":"ESOC","t":23.24,"v":-1.44},{"s":"ESOC","t":23.35,"v":-1.0},{"s":"ESOC","t":23.45,"v":-0.29},{"s":"ESOC","t":23.6,"v":0.4},
{"s":"EUM","t":0,"v":-0.5},{"s":"EUM","t":0.14,"v":0.05},{"s":"EUM","t":0.24,"v":-0.1},{"s":"EUM","t":0.4,"v":-0.7},{"s":"EUM","t":0.56,"v":-1.8},{"s":"EUM","t":0.71,"v":-2.95},{"s":"EUM","t":0.87,"v":-3.5},{"s":"EUM","t":1.0,"v":-3.7},{"s":"EUM","t":1.18,"v":-3.35},{"s":"EUM","t":1.39,"v":-2.85},{"s":"EUM","t":1.6,"v":-2.5},{"s":"EUM","t":1.8,"v":-2.3},{"s":"EUM","t":2.01,"v":-2.5},{"s":"EUM","t":2.27,"v":-2.65},{"s":"EUM","t":2.58,"v":-2.95},{"s":"EUM","t":2.79,"v":-2.7},{"s":"EUM","t":3.0,"v":-1.8},{"s":"EUM","t":3.21,"v":-0.6},{"s":"EUM","t":3.41,"v":0.9},{"s":"EUM","t":3.57,"v":2.0},{"s":"EUM","t":3.67,"v":2.25},{"s":"EUM","t":3.83,"v":2.0},{"s":"EUM","t":3.99,"v":0.85},{"s":"EUM","t":4.14,"v":-0.7},{"s":"EUM","t":4.3,"v":-2.0},{"s":"EUM","t":4.51,"v":-2.7},{"s":"EUM","t":4.66,"v":-2.45},{"s":"EUM","t":4.82,"v":-1.15},{"s":"EUM","t":4.97,"v":0.15},{"s":"EUM","t":5.13,"v":0.85},{"s":"EUM","t":5.32,"v":1.05},{"s":"EUM","t":5.49,"v":0.7},{"s":"EUM","t":5.65,"v":-0.15},{"s":"EUM","t":5.8,"v":-0.94},{"s":"EUM","t":6.01,"v":-1.15},{"s":"EUM","t":6.17,"v":-0.86},{"s":"EUM","t":6.38,"v":-0.44},{"s":"EUM","t":6.53,"v":-0.44},{"s":"EUM","t":6.69,"v":-0.72},{"s":"EUM","t":6.9,"v":-0.94},{"s":"EUM","t":7.11,"v":-0.65},{"s":"EUM","t":7.31,"v":0.42},{"s":"EUM","t":7.52,"v":1.42},{"s":"EUM","t":7.73,"v":2.14},{"s":"EUM","t":7.96,"v":2.42},{"s":"EUM","t":8.14,"v":1.99},{"s":"EUM","t":8.3,"v":1.28},{"s":"EUM","t":8.46,"v":0.42},{"s":"EUM","t":8.66,"v":-0.22},{"s":"EUM","t":8.77,"v":-0.15},{"s":"EUM","t":8.98,"v":0.56},{"s":"EUM","t":9.18,"v":1.78},{"s":"EUM","t":9.39,"v":2.64},{"s":"EUM","t":9.55,"v":2.42},{"s":"EUM","t":9.7,"v":1.56},{"s":"EUM","t":9.86,"v":0},{"s":"EUM","t":10.02,"v":-1.8},{"s":"EUM","t":10.17,"v":-3.08},{"s":"EUM","t":10.33,"v":-3.5},{"s":"EUM","t":10.48,"v":-3.0},{"s":"EUM","t":10.6,"v":-2.0},{"s":"EUM","t":10.74,"v":-0.72},{"s":"EUM","t":10.9,"v":0.56},{"s":"EUM","t":11.0,"v":1.14},{"s":"EUM","t":11.16,"v":1.39},{"s":"EUM","t":11.31,"v":1.14},{"s":"EUM","t":11.47,"v":0.56},{"s":"EUM","t":11.63,"v":-0.15},{"s":"EUM","t":11.78,"v":-0.86},{"s":"EUM","t":11.94,"v":-1.44},{"s":"EUM","t":12.04,"v":-1.47},{"s":"EUM","t":12.2,"v":-0.86},{"s":"EUM","t":12.35,"v":0},{"s":"EUM","t":12.51,"v":0.56},{"s":"EUM","t":12.61,"v":0.63},{"s":"EUM","t":12.77,"v":0.28},{"s":"EUM","t":12.92,"v":-0.29},{"s":"EUM","t":13.08,"v":-0.86},{"s":"EUM","t":13.24,"v":-1.22},{"s":"EUM","t":13.44,"v":-1.36},{"s":"EUM","t":13.6,"v":-1.33},{"s":"EUM","t":13.76,"v":-1.0},{"s":"EUM","t":13.96,"v":-0.44},{"s":"EUM","t":14.17,"v":0},{"s":"EUM","t":14.28,"v":0},{"s":"EUM","t":14.43,"v":-0.29},{"s":"EUM","t":14.59,"v":-0.79},{"s":"EUM","t":14.74,"v":-1.22},{"s":"EUM","t":14.9,"v":-1.29},{"s":"EUM","t":15.06,"v":-1.15},{"s":"EUM","t":15.21,"v":-0.72},{"s":"EUM","t":15.37,"v":-0.15},{"s":"EUM","t":15.55,"v":-0.08},{"s":"EUM","t":15.73,"v":-0.15},{"s":"EUM","t":15.89,"v":-0.47},{"s":"EUM","t":16.04,"v":-1.0},{"s":"EUM","t":16.25,"v":-1.86},{"s":"EUM","t":16.46,"v":-2.58},{"s":"EUM","t":16.64,"v":-2.79},{"s":"EUM","t":16.77,"v":-2.44},{"s":"EUM","t":16.93,"v":-1.51},{"s":"EUM","t":17.08,"v":-0.36},{"s":"EUM","t":17.24,"v":0.64},{"s":"EUM","t":17.39,"v":1.14},{"s":"EUM","t":17.52,"v":1.2},{"s":"EUM","t":17.65,"v":0.85},{"s":"EUM","t":17.81,"v":-0.15},{"s":"EUM","t":17.97,"v":-1.29},{"s":"EUM","t":18.12,"v":-2.5},{"s":"EUM","t":18.28,"v":-3.15},{"s":"EUM","t":18.43,"v":-2.79},{"s":"EUM","t":18.59,"v":-1.65},{"s":"EUM","t":18.75,"v":-0.79},{"s":"EUM","t":18.87,"v":-0.65},{"s":"EUM","t":19.0,"v":-0.94},{"s":"EUM","t":19.16,"v":-1.65},{"s":"EUM","t":19.32,"v":-2.5},{"s":"EUM","t":19.47,"v":-3.22},{"s":"EUM","t":19.63,"v":-3.6},{"s":"EUM","t":19.78,"v":-3.36},{"s":"EUM","t":19.94,"v":-2.65},{"s":"EUM","t":20.1,"v":-1.51},{"s":"EUM","t":20.25,"v":-0.1},{"s":"EUM","t":20.38,"v":0.7},{"s":"EUM","t":20.5,"v":1.1},{"s":"EUM","t":20.59,"v":1.18},{"s":"EUM","t":20.75,"v":0.85},{"s":"EUM","t":20.9,"v":0.35},{"s":"EUM","t":21.03,"v":0.03},{"s":"EUM","t":21.19,"v":-0.15},{"s":"EUM","t":21.3,"v":-0.15},{"s":"EUM","t":21.42,"v":0},{"s":"EUM","t":21.58,"v":0.42},{"s":"EUM","t":21.73,"v":0.85},{"s":"EUM","t":21.89,"v":1.06},{"s":"EUM","t":22.05,"v":0.78},{"s":"EUM","t":22.2,"v":0},{"s":"EUM","t":22.36,"v":-0.86},{"s":"EUM","t":22.51,"v":-1.58},{"s":"EUM","t":22.67,"v":-1.8},{"s":"EUM","t":22.82,"v":-1.51},{"s":"EUM","t":22.98,"v":-0.72},{"s":"EUM","t":23.14,"v":0.13},{"s":"EUM","t":23.29,"v":1.14},{"s":"EUM","t":23.45,"v":1.91},{"s":"EUM","t":23.6,"v":2.5}
]},
"data":{"name":"d"},
"mark":{"type":"line","clip":true,"strokeJoin":"round","interpolate":"monotone"},
"encoding":{
 "x":{"field":"t","type":"quantitative","scale":{"domain":[0,23.453],"nice":false,"zero":false},
  "axis":{"values":[0,5,10,15,20],"format":"d","title":"Time [h]","labelPadding":31,"titleX":770,"titleY":74}},
 "y":{"field":"v","type":"quantitative","scale":{"domain":[-10,6],"nice":false},
  "axis":{"values":[-10,-8,-6,-4,-2,0,2,4,6],"format":"d","title":"Differences in [cm]","labelPadding":25,"titleX":-61,"titleY":372,"titleAngle":270}},
 "color":{"field":"s","type":"nominal",
  "scale":{"domain":["AIUB","TUM","CNES","DLR","TUD","ESOC","EUM"],"range":["#0072BD","#D95319","#EDB120","#7E2F8E","#77AC30","#4DBEEE","#A2142F"]},
  "legend":{"orient":"none","legendX":310,"legendY":-79,"direction":"horizontal","columns":7,"title":null,"symbolType":"stroke","symbolSize":1764,"symbolStrokeWidth":1.5,"labelFontSize":34,"labelColor":"#000000","labelFont":"Liberation Sans","labelOffset":1.5,"columnPadding":-3.8,"padding":4,"strokeColor":"#7a7a7a","fillColor":"#ffffff","labelLimit":400}},
 "strokeWidth":{"field":"s","type":"nominal","scale":{"domain":["AIUB","TUM","CNES","DLR","TUD","ESOC","EUM"],"range":[4.5,3.5,2.2,2.2,2.2,2.2,2.2]},"legend":null}
}
}
